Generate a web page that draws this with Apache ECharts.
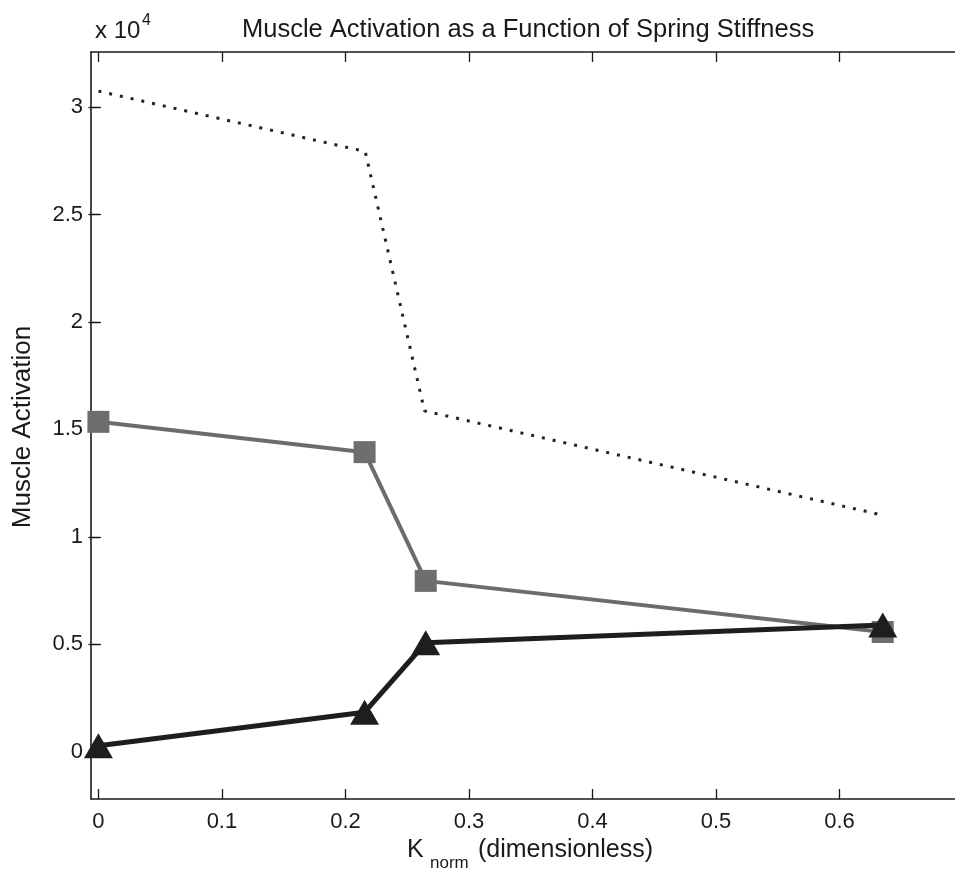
<!DOCTYPE html>
<html><head><meta charset="utf-8">
<script src="https://cdn.jsdelivr.net/npm/echarts@6/dist/echarts.min.js"></script>
<style>html,body{margin:0;padding:0;background:#fff;overflow:hidden}#c{width:955px;height:871px}</style>
</head><body><div id="c"></div>
<script>
const kNorm = [0, 0.2155, 0.265, 0.635];
const dottedK = [0, 0.216, 0.264, 0.631];
const dottedSeries = [30740, 27930, 15860, 11060];
const squareSeries = [15350, 13940, 7950, 5570];
const triangleSeries = [280, 1840, 5070, 5900];
const xTicks = [0, 0.1, 0.2, 0.3, 0.4, 0.5, 0.6];
const yTicks = [0, 5000, 10000, 15000, 20000, 25000, 30000];

const FONT = 'Liberation Sans, Arial, Helvetica, sans-serif';
const chart = echarts.init(document.getElementById('c'), null, {renderer: 'canvas'});
const pair = (xs, ys) => xs.map((x, i) => [x, ys[i]]);
const lineCol = '#1a1a1a';
const fmtY = v => String(+(v / 10000).toFixed(2));
const fmtX = v => String(+v.toFixed(2));
const txt = '#1a1a1a';
const X_MIN = -0.006, X_MAX = 0.6935, Y_MIN = -2200, Y_MAX = 32560;

chart.setOption({
  animation: false,
  backgroundColor: '#fff',
  grid: {left: 91, top: 52, width: 867, height: 747, containLabel: false},
  xAxis: [{
    type: 'value', min: X_MIN, max: X_MAX, position: 'bottom',
    axisLine: {show: true, onZero: false, lineStyle: {color: lineCol, width: 1.6}},
    axisTick: {show: true, inside: true, length: 10, customValues: xTicks, lineStyle: {color: lineCol, width: 1.3}},
    axisLabel: {show: true, customValues: xTicks, formatter: fmtX, margin: 12, color: txt, fontSize: 22, fontFamily: FONT},
    splitLine: {show: false}
  }, {
    type: 'value', min: X_MIN, max: X_MAX, position: 'top',
    axisLine: {show: true, onZero: false, lineStyle: {color: lineCol, width: 1.6}},
    axisTick: {show: true, inside: true, length: 10, customValues: xTicks, lineStyle: {color: lineCol, width: 1.3}},
    axisLabel: {show: false},
    splitLine: {show: false}
  }],
  yAxis: [{
    type: 'value', min: Y_MIN, max: Y_MAX, position: 'left',
    axisLine: {show: true, onZero: false, lineStyle: {color: lineCol, width: 1.6}},
    axisTick: {show: true, inside: true, length: 10, customValues: yTicks, lineStyle: {color: lineCol, width: 1.3}},
    axisLabel: {show: true, customValues: yTicks, formatter: fmtY, margin: 8, color: txt, fontSize: 22, fontFamily: FONT},
    splitLine: {show: false}
  }, {
    type: 'value', min: Y_MIN, max: Y_MAX, position: 'right',
    axisLine: {show: false},
    axisTick: {show: true, inside: true, length: 10, customValues: yTicks, lineStyle: {color: lineCol, width: 1.3}},
    axisLabel: {show: false},
    splitLine: {show: false}
  }],
  series: [{
    type: 'line', data: pair(dottedK, dottedSeries), symbol: 'none',
    lineStyle: {color: '#222', width: 3, type: [3, 8]}, z: 2
  }, {
    type: 'line', data: pair(kNorm, squareSeries), symbol: 'rect', symbolSize: 22,
    lineStyle: {color: '#6c6c6c', width: 4}, itemStyle: {color: '#6e6e6e'}, z: 3
  }, {
    type: 'line', data: pair(kNorm, triangleSeries), symbol: 'triangle', symbolSize: [29, 25],
    lineStyle: {color: '#1e1e1e', width: 5}, itemStyle: {color: '#1e1e1e'}, z: 4
  }],
  graphic: [{
    type: 'text', left: 242, top: 17,
    style: {text: 'Muscle Activation as a Function of Spring Stiffness', font: '25.5px ' + FONT, fill: txt}
  }, {
    type: 'text', left: 95, top: 19,
    style: {text: 'x 10', font: '24px ' + FONT, fill: txt}
  }, {
    type: 'text', left: 142, top: 13,
    style: {text: '4', font: '16px ' + FONT, fill: txt}
  }, {
    type: 'text', x: 23, y: 427, rotation: Math.PI / 2,
    style: {text: 'Muscle Activation', font: '26px ' + FONT, fill: txt, align: 'center', verticalAlign: 'middle'}
  }, {
    type: 'text', left: 407, top: 838,
    style: {text: 'K', font: '25px ' + FONT, fill: txt}
  }, {
    type: 'text', left: 430, top: 855,
    style: {text: 'norm', font: '17px ' + FONT, fill: txt}
  }, {
    type: 'text', left: 478, top: 838,
    style: {text: '(dimensionless)', font: '25px ' + FONT, fill: txt}
  }]
});
</script></body></html>
